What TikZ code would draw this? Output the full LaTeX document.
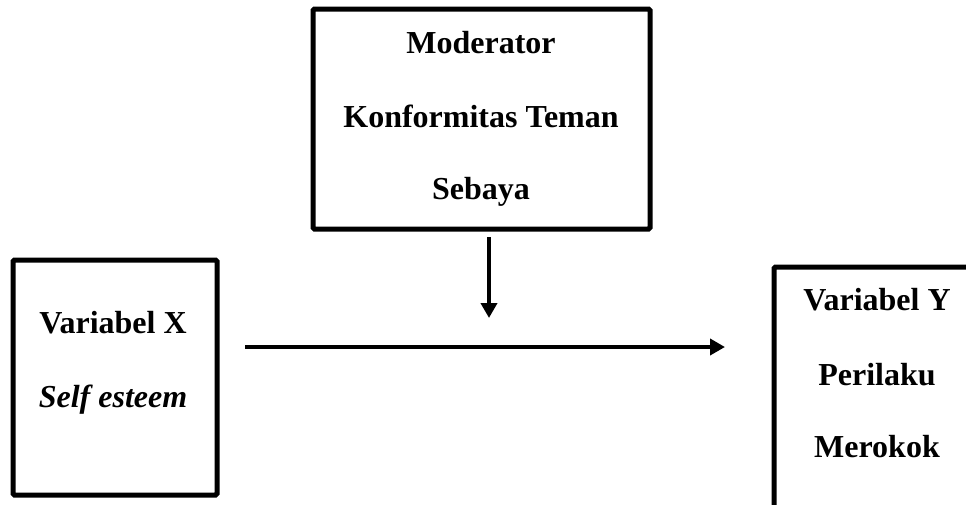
\documentclass[tikz,border=0pt]{standalone}
\usepackage{fontspec}
\setmainfont{Liberation Serif}
\usetikzlibrary{arrows.meta}
\begin{document}
\begin{tikzpicture}[x=1pt,y=-1pt,
  box/.style={draw, line width=5pt, rounded corners=1.5pt, inner sep=0pt},
  lbl/.style={font=\fontsize{32}{38}\selectfont\bfseries, inner sep=0pt, anchor=base},
  conn/.style={line width=4pt, -{Triangle[length=15pt,width=16pt]}}]
\useasboundingbox (0,0) rectangle (966,504);
\clip (0,0) rectangle (966,504);
% boxes
\node[box, minimum width=337pt, minimum height=220pt] (mod) at (481.5,119) {};
\node[box, minimum width=204pt, minimum height=235pt] (x) at (115,377.5) {};
\node[box, minimum width=240pt, minimum height=290pt] (y) at (894,412) {};
% texts
\node[lbl] (m1) at (481,53) {Moderator};
\node[lbl] (m2) at (481,127) {Konformitas Teman};
\node[lbl] (m3) at (481,199) {Sebaya};
\node[lbl] (x1) at (113,333) {Variabel X};
\node[lbl, font=\fontsize{32}{38}\selectfont\bfseries\itshape] (x2) at (113,407) {Self esteem};
\node[lbl] (y1) at (877,310) {Variabel Y};
\node[lbl] (y2) at (877,385) {Perilaku};
\node[lbl] (y3) at (877,457) {Merokok};
% connectors
\coordinate (ds) at (489,237);
\coordinate (de) at (489,318);
\coordinate (hs) at (245,347);
\coordinate (he) at (725,347);
\draw[conn] (ds) -- (de);
\draw[conn] (hs) -- (he);
\end{tikzpicture}
\end{document}
